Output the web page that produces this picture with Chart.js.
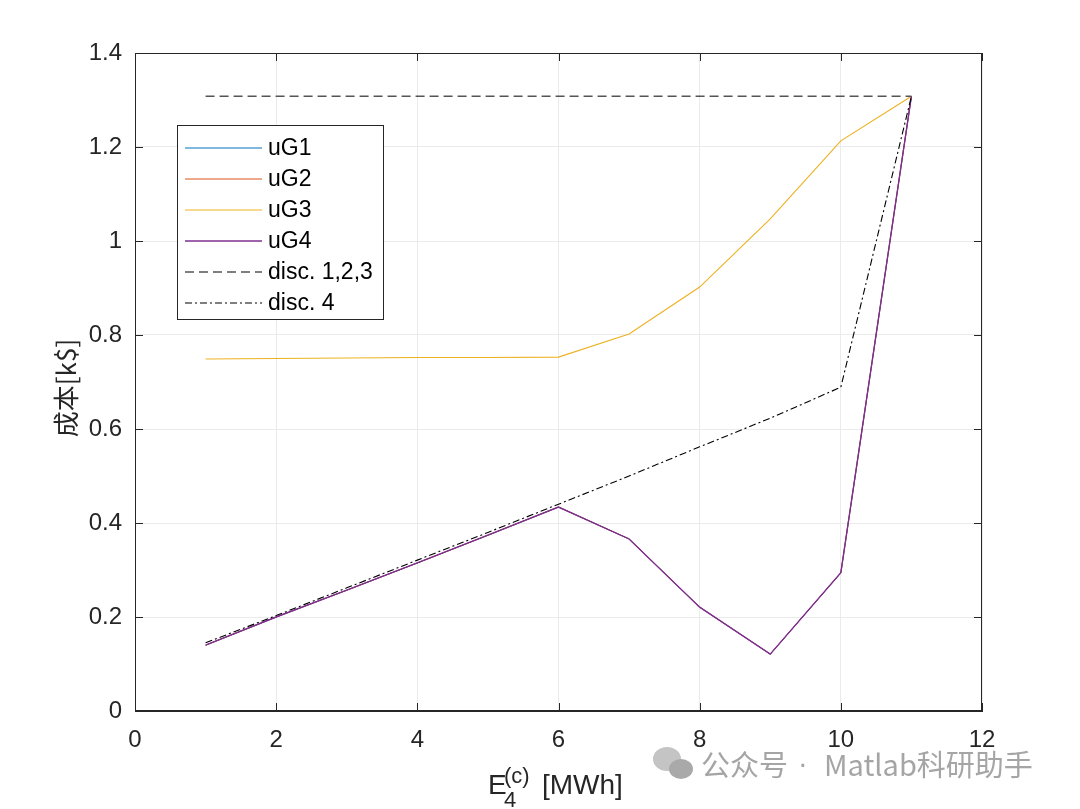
<!DOCTYPE html>
<html>
<head>
<meta charset="utf-8">
<script src="https://cdn.jsdelivr.net/npm/chart.js@4/dist/chart.umd.min.js"></script>
<style>
  html, body { margin: 0; padding: 0; background: #fff; }
  #wrap { width: 1080px; height: 809px; }
</style>
</head>
<body>
<div id="wrap"><canvas id="c" width="1080" height="809"></canvas></div>
<script>
// values
var energy = [1, 2, 3, 4, 5, 6, 7, 8, 9, 10, 11];
var uG1 = [0.14, 0.2, 0.257, 0.315, 0.374, 0.434, 0.366, 0.221, 0.121, 0.294, 1.308];
var uG2 = [0.14, 0.2, 0.257, 0.315, 0.374, 0.434, 0.366, 0.221, 0.121, 0.294, 1.308];
var uG3 = [0.749, 0.75, 0.751, 0.752, 0.752, 0.753, 0.802, 0.902, 1.047, 1.213, 1.308];
var uG4 = [0.14, 0.2, 0.257, 0.315, 0.374, 0.434, 0.366, 0.221, 0.121, 0.294, 1.308];
var disc123 = [1.308, 1.308, 1.308, 1.308, 1.308, 1.308, 1.308, 1.308, 1.308, 1.308, 1.308];
var disc4 = [0.145, 0.203, 0.262, 0.321, 0.38, 0.44, 0.5, 0.562, 0.623, 0.689, 1.308];
var seriesNames = ['uG1', 'uG2', 'uG3', 'uG4', 'disc. 1,2,3', 'disc. 4'];
var xTicks = [0, 2, 4, 6, 8, 10, 12];
var yTicks = [0, 0.2, 0.4, 0.6, 0.8, 1, 1.2, 1.4];

var FONT = '"Liberation Sans", Arial, sans-serif';
var AX = '#262626';

function pts(ys) {
  return energy.map(function(x, i) { return {x: x, y: ys[i]}; });
}

// later series sit on top, as in matlab
function line(i, ys, color, dash, w) {
  return {
    label: seriesNames[i],
    data: pts(ys),
    order: 10 - i,
    showLine: true,
    borderColor: color,
    backgroundColor: color,
    borderWidth: w || 1.1,
    borderDash: dash || [],
    pointRadius: 0,
    tension: 0
  };
}

// box, inward ticks, legend, axis titles and the watermark
var matlabLook = {
  id: 'matlabLook',
  afterDraw: function(chart) {
    var ctx = chart.ctx, a = chart.chartArea;
    var xs = chart.scales.x, ys = chart.scales.y;
    ctx.save();
    ctx.strokeStyle = AX;
    ctx.lineWidth = 1;
    ctx.strokeRect(a.left + 0.5, a.top + 0.5, a.right - a.left - 1, a.bottom - a.top - 1);
    ctx.beginPath();
    yTicks.forEach(function(v) {
      var y = Math.round(ys.getPixelForValue(v)) + 0.5;
      ctx.moveTo(a.left, y); ctx.lineTo(a.left + 8, y);
      ctx.moveTo(a.right, y); ctx.lineTo(a.right - 8, y);
    });
    xTicks.forEach(function(v) {
      var x = Math.round(xs.getPixelForValue(v)) + 0.5;
      ctx.moveTo(x, a.bottom); ctx.lineTo(x, a.bottom - 8);
      ctx.moveTo(x, a.top); ctx.lineTo(x, a.top + 8);
    });
    ctx.stroke();

    // legend
    var lx = 177, ly = 125, lw = 206, lh = 194;
    ctx.fillStyle = '#fff';
    ctx.fillRect(lx, ly, lw, lh);
    ctx.strokeStyle = AX;
    ctx.strokeRect(lx + 0.5, ly + 0.5, lw, lh);
    ctx.font = '23px ' + FONT;
    ctx.textBaseline = 'middle';
    var list = chart.data.datasets.slice().sort(function(p, q) { return q.order - p.order; });
    list.forEach(function(ds, i) {
      var y = ly + 23 + i * 31;
      ctx.beginPath();
      ctx.strokeStyle = ds.borderColor;
      ctx.lineWidth = ds.borderWidth;
      ctx.setLineDash(ds.borderDash);
      ctx.moveTo(lx + 8, y); ctx.lineTo(lx + 85, y);
      ctx.stroke();
      ctx.setLineDash([]);
      ctx.fillStyle = '#000';
      ctx.fillText(ds.label, lx + 91, y + 1);
    });

    // x title with sub/superscript
    ctx.fillStyle = AX;
    ctx.textBaseline = 'alphabetic';
    ctx.font = '28px ' + FONT;
    ctx.fillText('E', 488, 794);
    ctx.font = '22px ' + FONT;
    ctx.fillText('(c)', 504, 783);
    ctx.fillText('4', 504, 807);
    ctx.font = '28px ' + FONT;
    ctx.fillText('[MWh]', 542, 794);

    // y title
    ctx.save();
    ctx.translate(66, 388);
    ctx.rotate(-Math.PI / 2);
    ctx.textAlign = 'center';
    ctx.textBaseline = 'middle';
    ctx.font = '26px "Noto Sans CJK SC", ' + FONT;
    ctx.fillText('成本[k$]', 0, 0);
    ctx.restore();

    // watermark
    ctx.fillStyle = '#c4c4c4';
    ctx.beginPath(); ctx.ellipse(667, 759, 14, 12, 0, 0, Math.PI * 2); ctx.fill();
    ctx.fillStyle = '#a9a9a9';
    ctx.beginPath(); ctx.ellipse(681, 769, 12, 10, 0, 0, Math.PI * 2); ctx.fill();
    ctx.fillStyle = '#a5a5a5';
    ctx.font = '29px "Noto Sans CJK SC", ' + FONT;
    ctx.textBaseline = 'middle';
    ctx.fillText('公众号', 701, 765);
    ctx.font = '29px ' + FONT;
    ctx.fillText('·', 798, 765);
    ctx.font = '29px "Noto Sans CJK SC", ' + FONT;
    ctx.fillText('Matlab科研助手', 824, 765);
    ctx.restore();
  }
};

function tickText(v) {
  return String(Math.round(v * 10) / 10);
}

new Chart(document.getElementById('c'), {
  type: 'scatter',
  data: {
    datasets: [
      line(0, uG1, '#0072BD', [], 1),
      line(1, uG2, '#D95319', [], 1),
      line(2, uG3, '#EDB120'),
      line(3, uG4, '#7E2F8E', [], 1.4),
      line(4, disc123, '#555555', [9, 5], 1.4),
      line(5, disc4, '#000000', [7, 3, 2, 3], 1.1)
    ]
  },
  options: {
    responsive: false,
    animation: false,
    layout: { padding: { top: 53, right: 98, left: 0, bottom: 0 } },
    plugins: { legend: { display: false }, tooltip: { enabled: false } },
    scales: {
      x: {
        type: 'linear', min: 0, max: 12,
        afterFit: function(s) { s.height = 98; },
        afterBuildTicks: function(s) { s.ticks = xTicks.map(function(v) { return {value: v}; }); },
        grid: { color: '#ebebeb', drawTicks: false },
        border: { color: AX },
        ticks: { color: AX, font: { family: FONT, size: 24 }, padding: 15, maxRotation: 0, callback: tickText }
      },
      y: {
        type: 'linear', min: 0, max: 1.4,
        afterFit: function(s) { s.width = 135; },
        afterBuildTicks: function(s) { s.ticks = yTicks.map(function(v) { return {value: v}; }); },
        grid: { color: '#ebebeb', drawTicks: false },
        border: { color: AX },
        ticks: { color: AX, font: { family: FONT, size: 24 }, padding: 13, callback: tickText }
      }
    }
  },
  plugins: [matlabLook]
});
</script>
</body>
</html>
